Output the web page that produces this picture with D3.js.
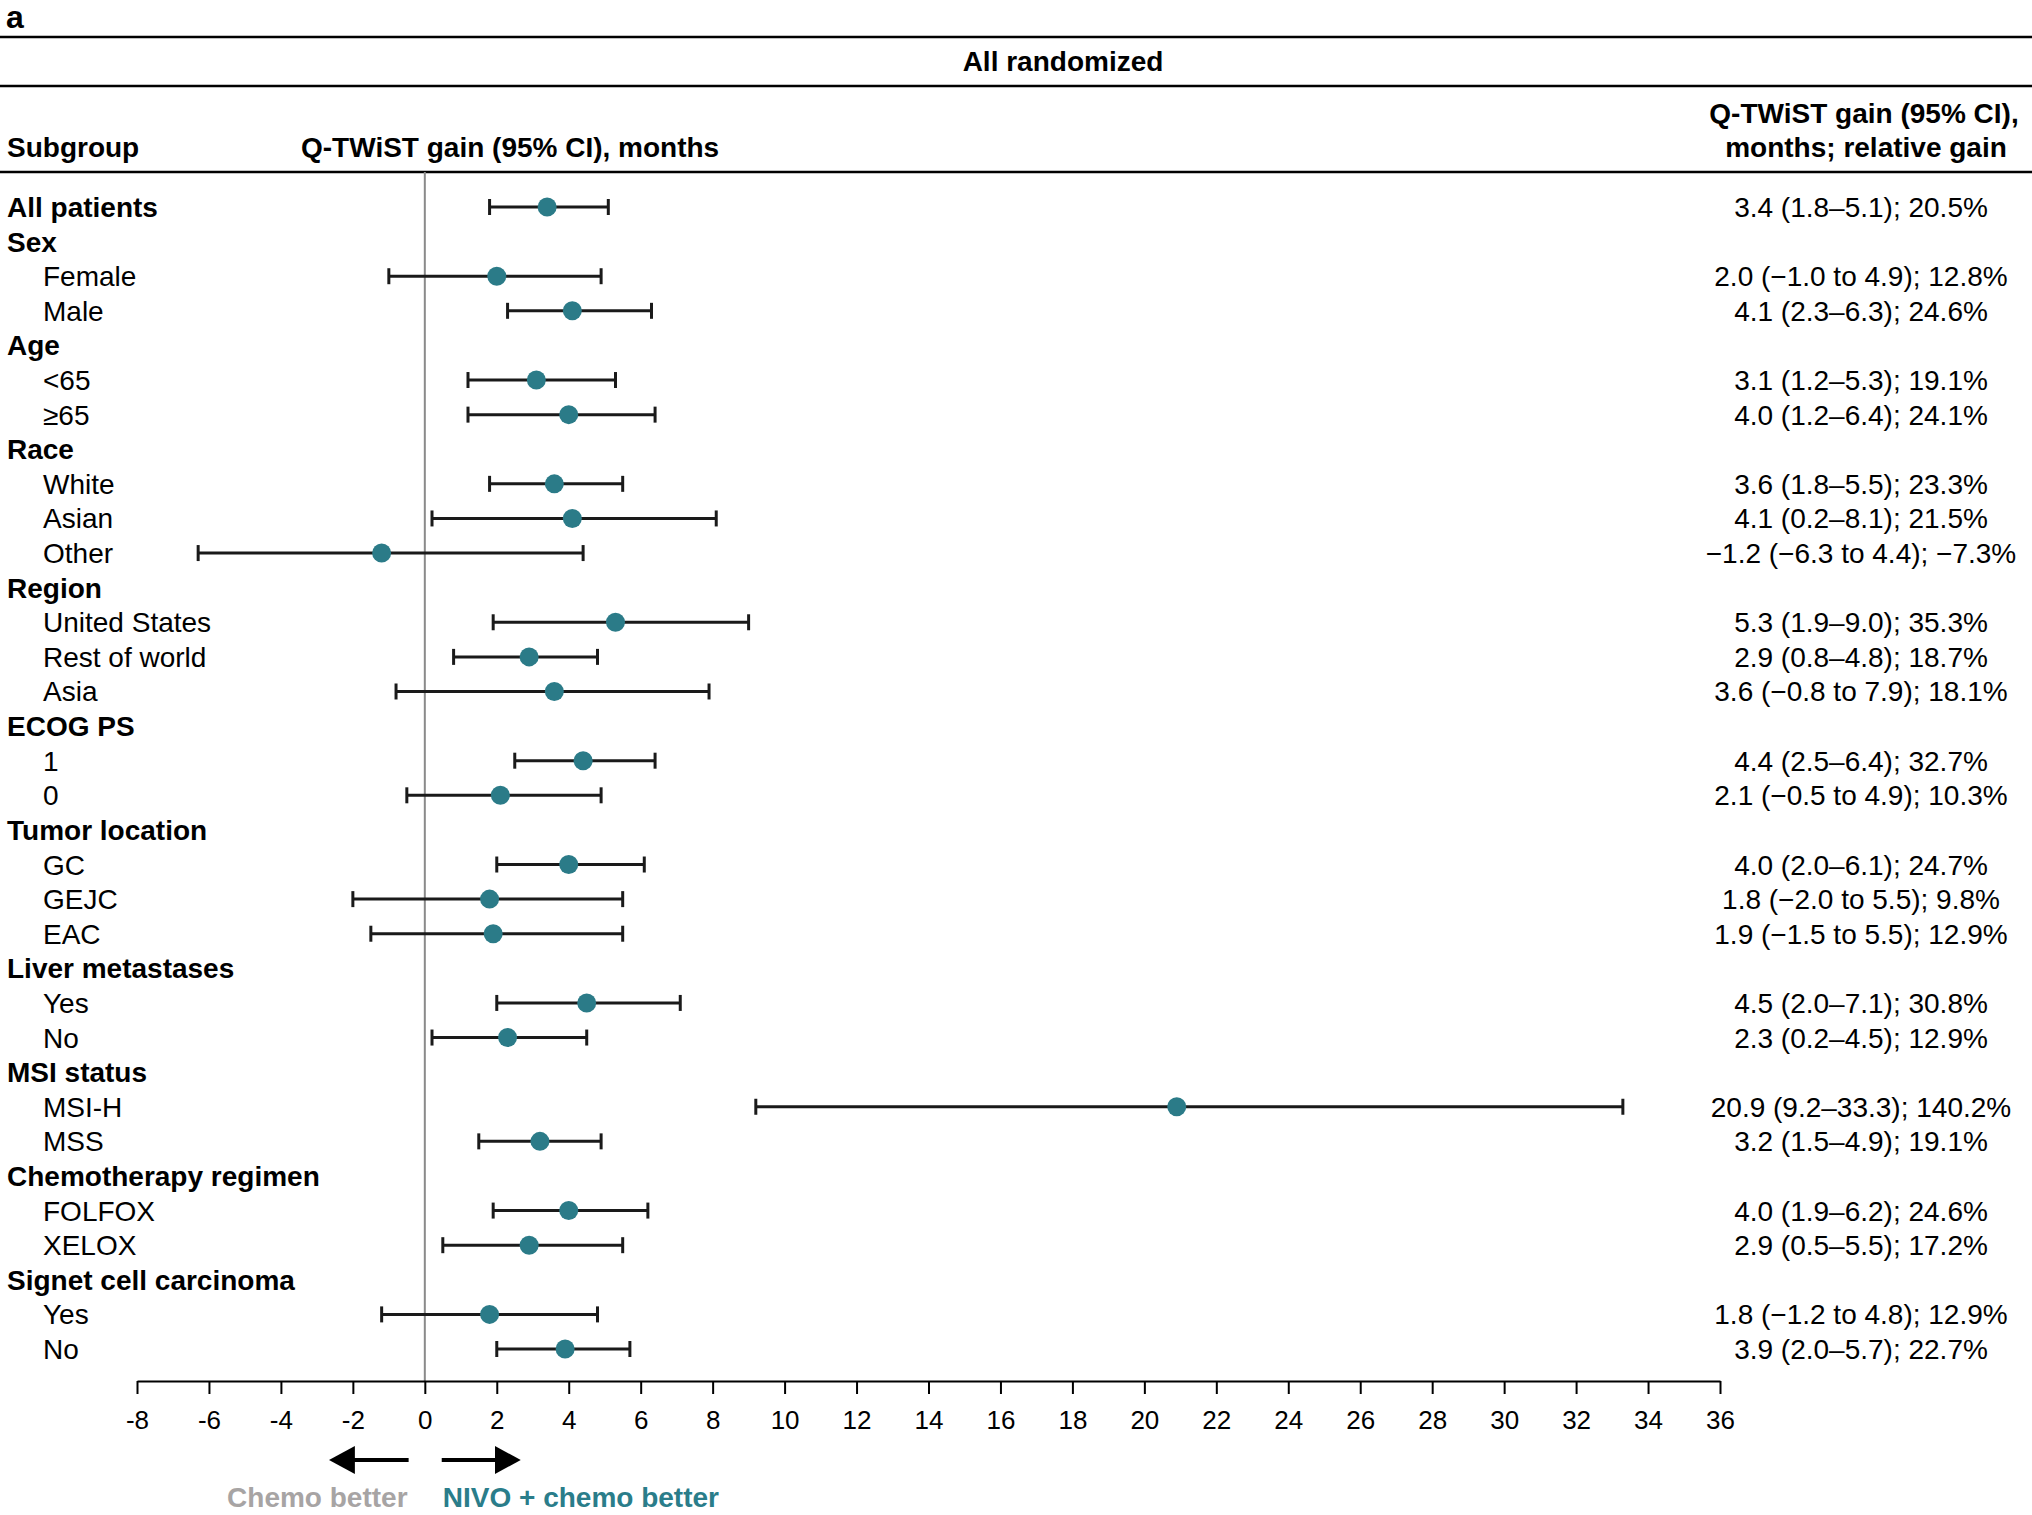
<!DOCTYPE html>
<html>
<head>
<meta charset="utf-8">
<script src="https://cdn.jsdelivr.net/npm/d3@7"></script>
<style>
  body { margin: 0; background: #fff; }
  svg { display: block; font-family: "Liberation Sans", Arial, Helvetica, sans-serif; }
</style>
</head>
<body>
<script>
// rows of the table, in order; type "h" = bold group header, "d" = data row
var labels = ["All patients", "Sex", "Female", "Male", "Age", "<65", "\u226565",
    "Race", "White", "Asian", "Other", "Region", "United States", "Rest of world", "Asia",
    "ECOG PS", "1", "0", "Tumor location", "GC", "GEJC", "EAC",
    "Liver metastases", "Yes", "No", "MSI status", "MSI-H", "MSS",
    "Chemotherapy regimen", "FOLFOX", "XELOX", "Signet cell carcinoma", "Yes", "No"];
var rowType = ["top", "h", "d", "d", "h", "d", "d",
    "h", "d", "d", "d", "h", "d", "d", "d",
    "h", "d", "d", "h", "d", "d", "d",
    "h", "d", "d", "h", "d", "d",
    "h", "d", "d", "h", "d", "d"];
// Q-TWiST gain, lower / upper 95% CI, relative gain (%), null for header rows
var gain  = [3.4, null, 2.0, 4.1, null, 3.1, 4.0, null, 3.6, 4.1, -1.2, null, 5.3, 2.9, 3.6,
    null, 4.4, 2.1, null, 4.0, 1.8, 1.9, null, 4.5, 2.3, null, 20.9, 3.2, null, 4.0, 2.9, null, 1.8, 3.9];
var lower = [1.8, null, -1.0, 2.3, null, 1.2, 1.2, null, 1.8, 0.2, -6.3, null, 1.9, 0.8, -0.8,
    null, 2.5, -0.5, null, 2.0, -2.0, -1.5, null, 2.0, 0.2, null, 9.2, 1.5, null, 1.9, 0.5, null, -1.2, 2.0];
var upper = [5.1, null, 4.9, 6.3, null, 5.3, 6.4, null, 5.5, 8.1, 4.4, null, 9.0, 4.8, 7.9,
    null, 6.4, 4.9, null, 6.1, 5.5, 5.5, null, 7.1, 4.5, null, 33.3, 4.9, null, 6.2, 5.5, null, 4.8, 5.7];
var relGain = [20.5, null, 12.8, 24.6, null, 19.1, 24.1, null, 23.3, 21.5, -7.3, null, 35.3, 18.7, 18.1,
    null, 32.7, 10.3, null, 24.7, 9.8, 12.9, null, 30.8, 12.9, null, 140.2, 19.1, null, 24.6, 17.2, null, 12.9, 22.7];
var xTicks = d3.range(-8, 37, 2);

var W = 2032, H = 1515;
var teal = "#2b7b88";
var fs = 28;

var svg = d3.select("body").append("svg")
    .attr("width", W)
    .attr("height", H);
svg.append("rect").attr("width", W).attr("height", H).attr("fill", "#fff");

var x = d3.scaleLinear().domain([-8, 36]).range([137, 1720]);
var y = d3.scalePoint().domain(d3.range(labels.length)).range([207, 1349]);
var axisY = 1381;

function num(v) {
    var s = Math.abs(v).toFixed(1);
    return v < 0 ? "\u2212" + s : s;
}
function ciText(i) {
    var sep = lower[i] < 0 ? " to " : "\u2013";
    return num(gain[i]) + " (" + num(lower[i]) + sep + num(upper[i]) + "); " + num(relGain[i]) + "%";
}

// panel letter
svg.append("text")
    .attr("x", 6).attr("y", 28)
    .text("a")
    .style("font-size", "32px").style("font-weight", "bold");

// table rules
[37, 86, 172].forEach(function (ly) {
    svg.append("line")
        .attr("x1", 0).attr("x2", W)
        .attr("y1", ly).attr("y2", ly)
        .style("stroke", "#000").style("stroke-width", 2.5);
});

svg.append("text")
    .attr("x", 1063).attr("y", 71)
    .attr("text-anchor", "middle")
    .text("All randomized")
    .style("font-size", fs + "px").style("font-weight", "bold");

svg.append("text")
    .attr("x", 7).attr("y", 157)
    .text("Subgroup")
    .style("font-size", fs + "px").style("font-weight", "bold");
svg.append("text")
    .attr("x", 301).attr("y", 157)
    .text("Q-TWiST gain (95% CI), months")
    .style("font-size", fs + "px").style("font-weight", "bold");
svg.append("text")
    .attr("x", 1864).attr("y", 123)
    .attr("text-anchor", "middle")
    .text("Q-TWiST gain (95% CI),")
    .style("font-size", fs + "px").style("font-weight", "bold");
svg.append("text")
    .attr("x", 1866).attr("y", 157)
    .attr("text-anchor", "middle")
    .text("months; relative gain")
    .style("font-size", fs + "px").style("font-weight", "bold");

// zero reference line
svg.append("line")
    .attr("x1", x(0)).attr("x2", x(0))
    .attr("y1", 172).attr("y2", axisY)
    .style("stroke", "#8a8a8a").style("stroke-width", 2);

// row labels
svg.selectAll(".row-label")
    .data(labels)
    .enter()
    .append("text")
    .attr("class", "row-label")
    .attr("x", function (d, i) { return rowType[i] === "d" ? 43 : 7; })
    .attr("y", function (d, i) { return y(i) + 10; })
    .text(function (d) { return d; })
    .style("font-size", fs + "px")
    .style("font-weight", function (d, i) { return rowType[i] === "d" ? "normal" : "bold"; });

var idx = d3.range(labels.length).filter(function (i) { return gain[i] !== null; });

var g = svg.append("g").attr("class", "forest");
g.selectAll(".ci")
    .data(idx)
    .enter()
    .append("line")
    .attr("class", "ci")
    .attr("x1", function (i) { return x(lower[i]); })
    .attr("x2", function (i) { return x(upper[i]); })
    .attr("y1", function (i) { return y(i); })
    .attr("y2", function (i) { return y(i); })
    .style("stroke", "#1a1a1a").style("stroke-width", 3);
["lo", "hi"].forEach(function (side) {
    g.selectAll(".cap-" + side)
        .data(idx)
        .enter()
        .append("line")
        .attr("class", "cap-" + side)
        .attr("x1", function (i) { return x(side === "lo" ? lower[i] : upper[i]); })
        .attr("x2", function (i) { return x(side === "lo" ? lower[i] : upper[i]); })
        .attr("y1", function (i) { return y(i) - 8; })
        .attr("y2", function (i) { return y(i) + 8; })
        .style("stroke", "#1a1a1a").style("stroke-width", 3);
});
g.selectAll(".point")
    .data(idx)
    .enter()
    .append("circle")
    .attr("class", "point")
    .attr("cx", function (i) { return x(gain[i]); })
    .attr("cy", function (i) { return y(i); })
    .attr("r", 9.5)
    .attr("fill", teal);

// right column
svg.selectAll(".ci-text")
    .data(idx)
    .enter()
    .append("text")
    .attr("class", "ci-text")
    .attr("x", 1861)
    .attr("y", function (i) { return y(i) + 10; })
    .attr("text-anchor", "middle")
    .text(function (i) { return ciText(i); })
    .style("font-size", fs + "px");

// x axis
var axis = svg.append("g")
    .attr("transform", "translate(0," + axisY + ")")
    .call(d3.axisBottom(x)
        .tickValues(xTicks)
        .tickFormat(function (d) { return String(d); })
        .tickSize(13)
        .tickSizeOuter(0)
        .tickPadding(17));
axis.select(".domain").style("stroke", "#000").style("stroke-width", 2);
axis.selectAll(".tick line").style("stroke", "#000").style("stroke-width", 2);
axis.selectAll(".tick text")
    .style("font-size", "26px")
    .style("font-family", "\"Liberation Sans\", Arial, sans-serif")
    .attr("fill", "#000");

// direction arrows
var defs = svg.append("defs");
defs.append("marker")
    .attr("id", "arrow")
    .attr("markerUnits", "userSpaceOnUse")
    .attr("markerWidth", 26)
    .attr("markerHeight", 30)
    .attr("viewBox", "0 0 26 30")
    .attr("refX", 2)
    .attr("refY", 15)
    .attr("orient", "auto")
    .append("path")
    .attr("d", "M0,1 L26,15 L0,29 Z")
    .attr("fill", "#000");

var arrowY = 1460;
svg.append("line")
    .attr("x1", x(-0.45)).attr("x2", x(-2.0))
    .attr("y1", arrowY).attr("y2", arrowY)
    .attr("marker-end", "url(#arrow)")
    .style("stroke", "#000").style("stroke-width", 4);
svg.append("line")
    .attr("x1", x(0.47)).attr("x2", x(2.0))
    .attr("y1", arrowY).attr("y2", arrowY)
    .attr("marker-end", "url(#arrow)")
    .style("stroke", "#000").style("stroke-width", 4);

svg.append("text")
    .attr("x", x(-0.48)).attr("y", 1507)
    .attr("text-anchor", "end")
    .text("Chemo better")
    .style("font-size", fs + "px").style("font-weight", "bold")
    .attr("fill", "#a7a4a4");
svg.append("text")
    .attr("x", x(0.5)).attr("y", 1507)
    .text("NIVO + chemo better")
    .style("font-size", fs + "px").style("font-weight", "bold")
    .attr("fill", "#2a7d8a");
</script>
</body>
</html>
